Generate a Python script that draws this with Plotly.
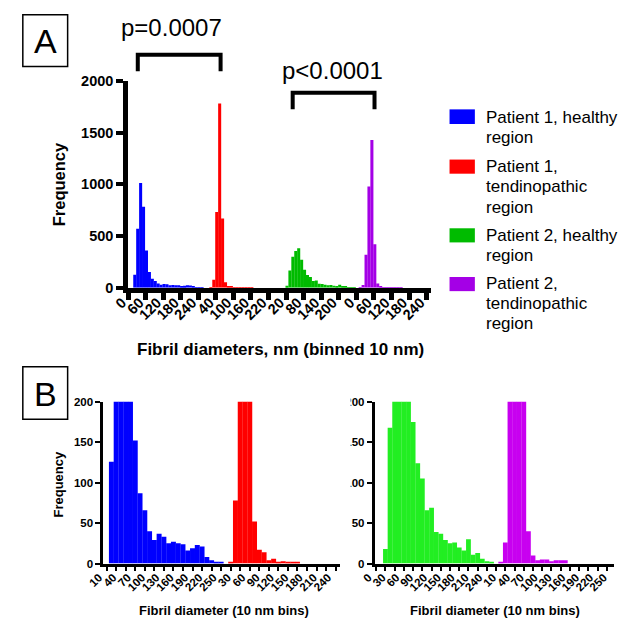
import plotly.graph_objects as go

# ---------------- data ----------------
BINS_NM = [0, 10, 20, 30, 40, 50, 60, 70, 80, 90, 100, 110, 120, 130, 140, 150,
           160, 170, 180, 190, 200, 210, 220, 230, 240, 250]

p1_healthy = [0, 126, 571, 1014, 784, 360, 152, 87, 66, 40, 29, 37, 33, 25, 27, 25,
              24, 16, 19, 23, 21, 8, 4, 2, 1, 0]
p1_tendinopathic = [0, 2, 78, 733, 1782, 670, 52, 17, 14, 4, 6, 2, 3, 2, 2, 1,
                    0, 0, 0, 0, 0, 0, 0, 0, 0, 0]
p2_healthy = [0, 18, 168, 300, 355, 382, 270, 175, 124, 105, 66, 69, 39, 37, 29, 25,
              26, 20, 16, 30, 11, 13, 6, 3, 1, 0]
p2_tendinopathic = [1, 26, 320, 980, 1430, 420, 40, 10, 4, 5, 5, 3, 4, 4, 4, 0,
                    0, 0, 0, 0, 0, 0, 0, 0, 0, 0]

series_names = ["Patient 1, healthy region", "Patient 1, tendinopathic region",
                "Patient 2, healthy region", "Patient 2, tendinopathic region"]
legend_lines = [["Patient 1, healthy", "region"],
                ["Patient 1,", "tendinopathic", "region"],
                ["Patient 2, healthy", "region"],
                ["Patient 2,", "tendinopathic", "region"]]

A_tick_labels = ["0", "60", "120", "180", "240", "40", "100", "160", "220",
                 "20", "80", "140", "200", "0", "60", "120", "180", "240"]
B_left_tick_labels = ["10", "40", "70", "100", "130", "160", "190", "220", "250",
                      "30", "60", "90", "120", "150", "180", "210", "240"]
B_right_tick_labels = ["0", "30", "60", "90", "120", "150", "180", "210", "240",
                       "10", "40", "70", "100", "130", "160", "190", "220", "250"]
A_y_ticks = [0, 500, 1000, 1500, 2000]
B_y_ticks = [0, 50, 100, 150, 200]

p_values = ["p=0.0007", "p<0.0001"]

# ---------------- styling ----------------
W, H = 621, 632
FONT = "Liberation Sans, Arial, sans-serif"
colA = ["#0000FF", "#FF0000", "#00BB00", "#A400E6"]
colB = ["#0000FF", "#FF0000", "#22EE22", "#C800F0"]
BW = 1.04  # bar width in bins (tiny overlap removes hairline gaps)


def px(x):
    return x / W


def py(y):
    return 1 - y / H


fig = go.Figure()

# ---- Panel A: four histograms side by side, 26 bins each ----
A_SHIFT = 1.3
seriesA = [p1_healthy, p1_tendinopathic, p2_healthy, p2_tendinopathic]
for g, (vals, c) in enumerate(zip(seriesA, colA)):
    xs = [26 * g + b + A_SHIFT for b in range(len(BINS_NM))]
    fig.add_trace(go.Bar(x=xs, y=vals, width=BW, marker=dict(color=c, line=dict(width=0)),
                         name=series_names[g], showlegend=False, xaxis="x", yaxis="y"))

# ---- Panel B left: patient 1 (bins from 10 nm, red up to 240 nm) ----
xsB1 = [b - 1 for b in range(1, 26)]
fig.add_trace(go.Bar(x=xsB1, y=p1_healthy[1:26], width=BW,
                     marker=dict(color=colB[0], line=dict(width=0)),
                     name=series_names[0], showlegend=False, xaxis="x2", yaxis="y2"))
xsB2 = [24 + b for b in range(1, 25)]
fig.add_trace(go.Bar(x=xsB2, y=p1_tendinopathic[1:25], width=BW,
                     marker=dict(color=colB[1], line=dict(width=0)),
                     name=series_names[1], showlegend=False, xaxis="x2", yaxis="y2"))

# ---- Panel B right: patient 2 ----
xsB3 = [b for b in range(26)]
fig.add_trace(go.Bar(x=xsB3, y=p2_healthy, width=BW,
                     marker=dict(color=colB[2], line=dict(width=0)),
                     name=series_names[2], showlegend=False, xaxis="x3", yaxis="y3"))
xsB4 = [26 + b for b in range(26)]
fig.add_trace(go.Bar(x=xsB4, y=p2_tendinopathic, width=BW,
                     marker=dict(color=colB[3], line=dict(width=0)),
                     name=series_names[3], showlegend=False, xaxis="x3", yaxis="y3"))

# ---------------- axes ----------------
tickA = dict(family=FONT, size=14.5, color="black", weight="bold")
tickB = dict(family=FONT, size=11.5, color="black", weight="bold")

A_tickvals = [6 * j for j in range(len(A_tick_labels))]
B_left_tickvals = [b - 1 - 0.5 for b in range(1, 26, 3)] + [24 + b - 0.5 for b in range(3, 25, 3)]
B_right_tickvals = [b - 0.5 for b in range(0, 25, 3)] + [26 + b - 0.5 for b in range(1, 26, 3)]

fig.update_layout(
    width=W, height=H, margin=dict(l=0, r=0, t=0, b=0),
    paper_bgcolor="white", plot_bgcolor="white", barmode="overlay",
    xaxis=dict(domain=[px(115), px(426)], range=[0, 103.5], anchor="y",
               showgrid=False, zeroline=False, showline=True, linewidth=4.5, linecolor="black",
               ticks="outside", ticklen=8, tickwidth=4.5, tickcolor="black",
               tickmode="array", tickvals=A_tickvals, ticktext=A_tick_labels,
               tickangle=-45, tickfont=tickA, ticklabelshift=-6, ticklabelstandoff=-12),
    yaxis=dict(domain=[py(287), py(75)], range=[0, 2000], anchor="x",
               showgrid=False, zeroline=False, showline=True, linewidth=4.5, linecolor="black",
               ticks="outside", ticklen=7, tickwidth=4, tickcolor="black",
               tickmode="array", tickvals=A_y_ticks, tickfont=tickA),
    xaxis2=dict(domain=[px(89.5), px(333)], range=[-1.72, 48.0], anchor="y2",
                showgrid=False, zeroline=False, showline=True, linewidth=2.5, linecolor="black",
                ticks="outside", ticklen=5, tickwidth=1, tickcolor="rgba(0,0,0,0)",
                tickmode="array", tickvals=B_left_tickvals, ticktext=B_left_tick_labels,
                tickangle=-45, tickfont=tickB, ticklabelshift=-10, ticklabelstandoff=-5,
                minor=dict(tickmode="array", tickvals=[-1 + 2 * j for j in range(25)],
                           ticks="outside", ticklen=5, tickwidth=2, tickcolor="black")),
    yaxis2=dict(domain=[py(570), py(404)], range=[0, 200], anchor="x2",
                showgrid=False, zeroline=False, showline=True, linewidth=2.5, linecolor="black",
                ticks="outside", ticklen=5, tickwidth=2, tickcolor="black",
                tickmode="array", tickvals=B_y_ticks, tickfont=tickB),
    xaxis3=dict(domain=[px(368), px(614)], range=[-1.37, 50.6], anchor="y3",
                showgrid=False, zeroline=False, showline=True, linewidth=2.5, linecolor="black",
                ticks="outside", ticklen=5, tickwidth=1, tickcolor="rgba(0,0,0,0)",
                tickmode="array", tickvals=B_right_tickvals, ticktext=B_right_tick_labels,
                tickangle=-45, tickfont=tickB, ticklabelshift=-10, ticklabelstandoff=-5,
                minor=dict(tickmode="array", tickvals=[-1 + 2 * j for j in range(26)],
                           ticks="outside", ticklen=5, tickwidth=2, tickcolor="black")),
    yaxis3=dict(domain=[py(570), py(404)], range=[0, 200], anchor="x3",
                showgrid=False, zeroline=False, showline=True, linewidth=2.5, linecolor="black",
                ticks="outside", ticklen=5, tickwidth=2, tickcolor="black",
                tickmode="array", tickvals=B_y_ticks, tickfont=tickB),
)

# ---------------- annotations & shapes ----------------
ann = []
shapes = []


def text(x, y, s, size, bold=False, angle=0, xanchor="center", yanchor="middle"):
    ann.append(dict(x=px(x), y=py(y), xref="paper", yref="paper", text=s, showarrow=False,
                    xanchor=xanchor, yanchor=yanchor, textangle=angle,
                    font=dict(family=FONT, size=size, color="black",
                              weight="bold" if bold else "normal")))


# panel letters in boxes
shapes.append(dict(type="rect", xref="paper", yref="paper", x0=px(7), x1=px(53), y0=py(60), y1=py(7),
                   line=dict(color="black", width=1.5)))
text(30, 34, "A", 34)
shapes.append(dict(type="rect", xref="paper", yref="paper", x0=px(7), x1=px(53), y0=py(422), y1=py(368),
                   line=dict(color="black", width=1.5)))
text(30, 396, "B", 34)

# significance brackets
for (xl, xr, ytop, ybot) in [(125, 210, 48, 65), (284, 368, 87, 104)]:
    shapes.append(dict(type="path", xref="paper", yref="paper",
                       path=f"M {px(xl)} {py(ybot)} L {px(xl)} {py(ytop)} L {px(xr)} {py(ytop)} L {px(xr)} {py(ybot)}",
                       line=dict(color="black", width=4)))
text(160, 20, p_values[0], 24)
text(325, 64, p_values[1], 24)

# axis titles
text(45, 181, "Frequency", 16.5, bold=True, angle=-90)
text(272, 350, "Fibril diameters, nm (binned 10 nm)", 17, bold=True)
text(44, 488, "Frequency", 13, bold=True, angle=-90)
text(213, 618, "Fibril diameter (10 nm bins)", 13, bold=True)
text(492, 618, "Fibril diameter (10 nm bins)", 13, bold=True)

# legend
leg_sq_y = [(104, 119), (155.5, 170), (226, 240.5), (276, 290.5)]
leg_text_y0 = [112, 163, 233, 283]
for i in range(4):
    y0, y1 = leg_sq_y[i]
    shapes.append(dict(type="rect", xref="paper", yref="paper", x0=px(445), x1=px(471),
                       y0=py(y1), y1=py(y0), fillcolor=colA[i], line=dict(width=0)))
    for li, line in enumerate(legend_lines[i]):
        text(480, leg_text_y0[i] + 20.6 * li, line, 17, xanchor="left")

# partially hidden tick labels of the right panel B y axis (as in the source figure)
shapes.append(dict(type="rect", xref="paper", yref="paper", x0=px(334), x1=px(343.5),
                   y0=py(580), y1=py(396), fillcolor="white", line=dict(width=0), layer="above"))

fig.update_layout(annotations=ann, shapes=shapes)
fig.write_html("out.html", config={"displayModeBar": False},
               post_script="document.body.style.margin='0';document.body.style.padding='0';")
